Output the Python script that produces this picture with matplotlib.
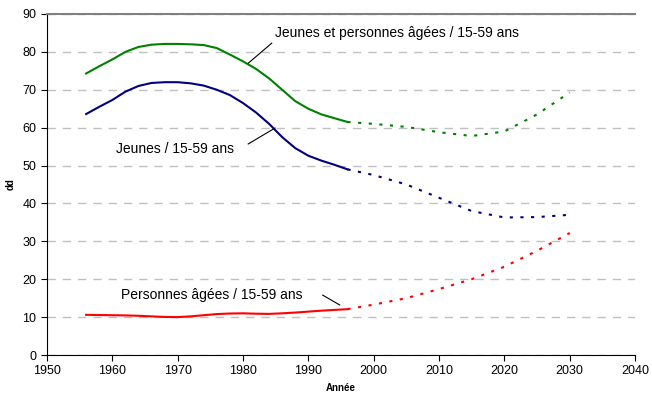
import matplotlib.pyplot as plt
import numpy as np

plt.rcParams['font.family'] = ['Liberation Sans', 'DejaVu Sans']

# observed (solid) part
years_obs = [1956, 1958, 1960, 1962, 1964, 1966, 1968, 1970, 1972, 1974, 1976,
             1978, 1980, 1982, 1984, 1986, 1988, 1990, 1992, 1994, 1996]
total_obs = [74.3, 76.2, 78.0, 80.0, 81.3, 81.9, 82.1, 82.1, 82.0, 81.8, 81.0,
             79.3, 77.5, 75.5, 73.0, 70.0, 67.0, 65.0, 63.5, 62.5, 61.5]
jeunes_obs = [63.6, 65.5, 67.3, 69.5, 71.0, 71.8, 72.0, 72.0, 71.7, 71.1, 70.0,
              68.6, 66.5, 64.0, 61.0, 57.5, 54.6, 52.6, 51.3, 50.2, 49.0]
agees_obs = [10.6, 10.55, 10.5, 10.45, 10.35, 10.2, 10.05, 10.0, 10.2, 10.5, 10.8,
             10.95, 11.0, 10.9, 10.85, 11.0, 11.2, 11.45, 11.7, 11.9, 12.1]

# projections (dotted part)
years_proj = [1996, 2000, 2005, 2010, 2015, 2020, 2025, 2030]
total_proj = [61.5, 61.0, 60.2, 58.8, 57.8, 59.0, 63.5, 69.3]
jeunes_proj = [49.0, 47.5, 45.0, 41.5, 38.0, 36.3, 36.4, 37.0]
agees_proj = [12.1, 13.3, 15.0, 17.4, 20.0, 23.3, 27.5, 32.2]

colors = {'total': '#008000', 'jeunes': '#000080', 'agees': '#ff0000'}
dots = (0, (1.5, 3.6))

fig = plt.figure(figsize=(6.52, 4.0), dpi=100)
ax = fig.add_axes([0.072, 0.1125, 0.902, 0.8525])

for obs, proj, key in [(total_obs, total_proj, 'total'),
                       (jeunes_obs, jeunes_proj, 'jeunes'),
                       (agees_obs, agees_proj, 'agees')]:
    ax.plot(years_obs, obs, color=colors[key], lw=1.5)
    ax.plot(years_proj, proj, color=colors[key], lw=1.5, ls=dots)

ax.set_xlim(1950, 2040)
ax.set_ylim(0, 90)
ax.set_xticks(np.arange(1950, 2041, 10))
ax.set_yticks(np.arange(0, 91, 10))
ax.yaxis.grid(True, color='#c0c0c0', ls=(0, (6, 5)), lw=1)
ax.set_axisbelow(True)

ax.spines['right'].set_visible(False)
ax.spines['top'].set_color('#808080')
ax.spines['top'].set_linewidth(1.5)
ax.tick_params(direction='out', length=4, labelsize=9, color='black')

ax.set_xlabel('Année', fontsize=7, fontweight='bold', labelpad=4)
ax.set_ylabel('dd', fontsize=7, fontweight='bold', labelpad=5)

# labels with leader lines
ax.text(1984.9, 85, 'Jeunes et personnes âgées / 15-59 ans', fontsize=10, va='center')
ax.plot([1984.4, 1980.8], [82.3, 77.0], color='black', lw=0.8)
ax.text(1960.6, 54.4, 'Jeunes / 15-59 ans', fontsize=10, va='center')
ax.plot([1980.8, 1984.9], [55.7, 59.9], color='black', lw=0.8)
ax.text(1961.3, 15.8, 'Personnes âgées / 15-59 ans', fontsize=10, va='center')
ax.plot([1992.2, 1994.8], [15.8, 13.2], color='black', lw=0.8)

fig.savefig('out.png', dpi=100)
